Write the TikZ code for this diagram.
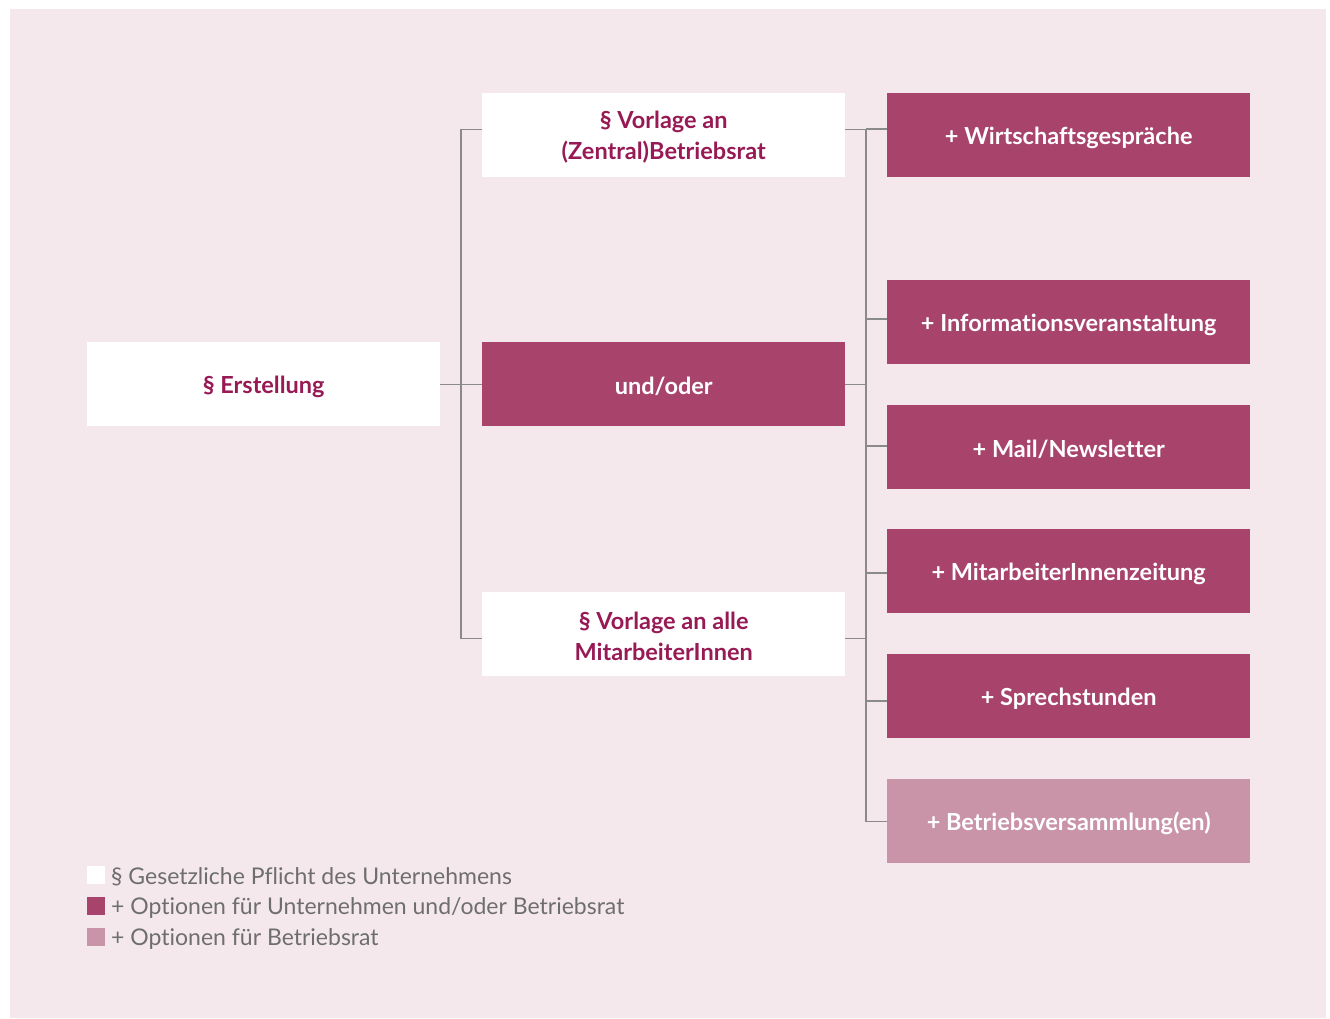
\documentclass[tikz,border=0pt]{standalone}
\usepackage{fontspec}
\setmainfont{Lato}[Ligatures=NoCommon]
\definecolor{bgpink}{HTML}{F4E8EC}
\definecolor{dark}{HTML}{A8446C}
\definecolor{light}{HTML}{CA94A8}
\definecolor{txtred}{HTML}{981A55}
\definecolor{linegray}{HTML}{8A8A8A}
\definecolor{leggray}{HTML}{6E6E6E}
\newcommand{\lowr}[2][2.5pt]{\raisebox{-#1}[\height][\depth]{#2}}
\begin{document}
\begin{tikzpicture}[x=1pt,y=-1pt,
  box/.style={minimum width=363pt,minimum height=84pt,inner sep=0pt,anchor=north west,align=center,font=\fontsize{23.5}{31}\selectfont\bfseries},
  whitebox/.style={box,fill=white,text=txtred},
  darkbox/.style={box,fill=dark,text=white},
  lightbox/.style={box,fill=light,text=white},
  conn/.style={draw=linegray,line width=1.3pt},
  legsq/.style={minimum size=18pt,inner sep=0pt,anchor=north west},
  legtxt/.style={anchor=west,inner sep=0pt,text=leggray,font=\fontsize{23}{26}\selectfont}
]
\useasboundingbox (0,0) rectangle (1330,1018);
\fill[white] (0,0) rectangle (1330,1018);
\fill[bgpink] (10,9) rectangle (1326,1018);

\node[whitebox,minimum width=353pt] (erst) at (87,342) {\lowr{§ Erstellung}};
\node[whitebox] (vzb) at (482,93) {\lowr[2pt]{\shortstack{§ Vorlage an\\[6pt](Zentral)Betriebsrat}}};
\node[darkbox] (undoder) at (482,342) {\lowr{und/oder}};
\node[whitebox] (vma) at (482,592) {\lowr[2pt]{\shortstack{§ Vorlage an alle\\[6pt]MitarbeiterInnen}}};

\node[darkbox] (wg) at (887,93) {\lowr{+ Wirtschaftsgespräche}};
\node[darkbox] (iv) at (887,280) {\lowr{+ Informationsveranstaltung}};
\node[darkbox] (mn) at (887,405) {\lowr{+ Mail/Newsletter}};
\node[darkbox] (mz) at (887,529) {\lowr{+ MitarbeiterInnenzeitung}};
\node[darkbox] (sp) at (887,654) {\lowr{+ Sprechstunden}};
\node[lightbox] (bv) at (887,779) {\lowr{+ Betriebsversammlung(en)}};

% connector points
\coordinate (lb) at (461,0);
\coordinate (rb) at (866,0);
\coordinate (vzbW) at ([yshift=6pt]vzb.west);
\coordinate (vzbE) at ([yshift=6pt]vzb.east);
\coordinate (vmaW) at ([yshift=-4pt]vma.west);
\coordinate (vmaE) at ([yshift=-4pt]vma.east);

% left bracket
\draw[conn] (erst.east) -- (undoder.west);
\draw[conn] (vzbW) -| (lb |- vmaW) -- (vmaW);

% right bracket
\draw[conn] (vzbE) -| (rb |- bv.west) -- (bv.west);
\draw[conn] (undoder.east) -- (rb |- undoder.east);
\draw[conn] (vmaE) -- (rb |- vmaE);
\foreach \n/\yy in {wg/129, iv/319, mn/446, mz/573, sp/701}
  \draw[conn] (rb |- 0,\yy) -- (\n.west |- 0,\yy);

% legend
\node[legsq,fill=white] (l1) at (87,866) {};
\node[legsq,fill=dark] (l2) at (87,897) {};
\node[legsq,fill=light] (l3) at (87,928) {};
\node[legtxt] (t1) at (111,877) {§ Gesetzliche P{fl}icht des Unternehmens};
\node[legtxt] (t2) at (111,908) {+ Optionen für Unternehmen und/oder Betriebsrat};
\node[legtxt] (t3) at (111,939) {+ Optionen für Betriebsrat};
\end{tikzpicture}
\end{document}
